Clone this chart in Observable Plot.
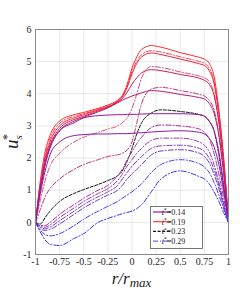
<!DOCTYPE html>
<html><head><meta charset="utf-8">
<script src="https://cdn.jsdelivr.net/npm/d3@7"></script>
<script src="https://cdn.jsdelivr.net/npm/@observablehq/plot@0.6"></script>
<style>body{margin:0;background:#fff;} #chart{width:252px;height:294px;}</style>
</head><body><div id="chart"></div>
<script>
// radial positions r/r_max shared by all profiles
const r = [-1, -0.95, -0.9, -0.85, -0.75, -0.6, -0.5, -0.35, -0.25, -0.15, -0.1, -0.05, 0, 0.05, 0.1, 0.2, 0.3, 0.5, 0.7, 0.75, 0.8, 0.85, 0.9, 0.95, 1];
// profiles u_s^*
const u1  = [0,1.3,2.2,2.7,3.15,3.35,3.42,3.55,3.65,3.8,3.95,4.3,4.8,5.15,5.38,5.5,5.45,5.28,5.13,5.08,4.95,4.55,3.5,2.0,0];
const u2  = [0,1.2,2.1,2.6,3.08,3.3,3.38,3.52,3.62,3.78,3.92,4.25,4.7,5.02,5.22,5.34,5.3,5.15,5.0,4.95,4.8,4.4,3.4,1.95,0];
const u3  = [0,1.15,2.0,2.5,3.0,3.25,3.35,3.5,3.6,3.76,3.9,4.2,4.62,4.95,5.15,5.27,5.22,5.08,4.93,4.88,4.72,4.32,3.35,1.9,0];
const u4  = [0,0.7,1.3,1.75,2.15,2.5,2.65,2.8,2.9,3.0,3.1,3.25,3.55,4.0,4.5,4.85,4.82,4.68,4.55,4.5,4.38,4.02,3.15,1.8,0];
const u5  = [0,1.1,1.9,2.4,2.92,3.2,3.3,3.47,3.58,3.74,3.85,4.05,4.3,4.5,4.65,4.75,4.72,4.6,4.48,4.42,4.3,3.95,3.1,1.75,0];
const u6  = [0,0.4,0.8,1.05,1.35,1.65,1.8,1.95,2.05,2.1,2.15,2.25,2.5,3.1,3.7,4.15,4.2,4.1,3.98,3.93,3.8,3.5,2.75,1.55,0];
const u7  = [0,1.0,1.8,2.3,2.85,3.15,3.27,3.44,3.56,3.72,3.8,3.87,3.93,3.98,4.03,4.1,4.08,3.98,3.88,3.84,3.7,3.4,2.7,1.5,0];
const u8  = [0,-0.05,0.15,0.35,0.65,0.9,1.02,1.18,1.3,1.45,1.6,1.9,2.3,2.75,3.1,3.4,3.5,3.45,3.35,3.3,3.15,2.85,2.1,1.1,0];
const u9  = [0,1.0,1.8,2.35,2.85,3.1,3.25,3.32,3.34,3.35,3.35,3.36,3.36,3.36,3.37,3.38,3.38,3.38,3.35,3.3,3.15,2.85,2.2,1.15,0];
const u10 = [0,-0.1,-0.1,0.0,0.25,0.55,0.75,1.0,1.15,1.45,1.65,1.95,2.2,2.45,2.65,2.95,3.03,3.0,2.9,2.8,2.6,2.15,1.5,0.75,0];
const u11 = [0,0.9,1.6,2.1,2.5,2.7,2.73,2.75,2.75,2.76,2.76,2.76,2.77,2.78,2.79,2.81,2.83,2.85,2.8,2.75,2.62,2.35,1.8,0.95,0];
const u12 = [0,-0.12,-0.15,-0.08,0.15,0.45,0.65,0.9,1.05,1.3,1.5,1.75,1.95,2.15,2.3,2.55,2.62,2.62,2.5,2.4,2.2,1.8,1.25,0.6,0];
const u13 = [0,-0.15,-0.2,-0.15,0.05,0.35,0.55,0.8,0.95,1.15,1.35,1.55,1.75,1.9,2.05,2.3,2.38,2.4,2.3,2.2,2.0,1.65,1.15,0.55,0];
const u14 = [0,-0.2,-0.25,-0.22,-0.05,0.25,0.45,0.7,0.85,1.0,1.15,1.35,1.5,1.65,1.8,2.1,2.22,2.26,2.15,2.05,1.85,1.5,1.05,0.5,0];
const u15 = [0,-0.25,-0.38,-0.42,-0.35,-0.1,0.1,0.35,0.5,0.65,0.75,0.85,0.95,1.07,1.2,1.55,1.8,1.95,1.82,1.72,1.55,1.25,0.85,0.42,0];
const u16 = [0,-0.3,-0.55,-0.68,-0.72,-0.5,-0.35,0.0,0.12,0.22,0.27,0.31,0.35,0.43,0.55,0.95,1.35,1.6,1.42,1.35,1.2,0.95,0.65,0.3,0];
const legendTimes = ["0.14", "0.19", "0.23", "0.29"];
const xTicks = [-1, -0.75, -0.5, -0.25, 0, 0.25, 0.5, 0.75, 1];
const yTicks = [-1, 0, 1, 2, 3, 4, 5, 6];

// styles (kept apart from values)
const profiles = [u1,u2,u3,u4,u5,u6,u7,u8,u9,u10,u11,u12,u13,u14,u15,u16];
const colors = ["#ff2a2a","#ff3a5a","#f0203a","#e0457e","#d21f50","#c2307a","#b41d72","#111111","#961aa0","#a32e9e","#8a1aa8","#9038b2","#7a38c4","#6636d4","#4c3ae6","#3434ff"];
const DD = "5,2,1.2,2", SOLID = null, DASH = "3,1.6";
const dashes = [SOLID,DD,SOLID,DD,SOLID,DD,SOLID,DASH,SOLID,DD,SOLID,DD,DD,DD,DD,DD];
const legendColors = ["#8c1a9c","#ff3a3a","#111111","#6a6aff"];
const legendDashes = [SOLID, SOLID, DASH, DD];

const lineMarks = profiles.map((u, i) => Plot.line(r.map((rv, j) => ({r: rv, u: u[j]})), {
  x: "r", y: "u", stroke: colors[i], strokeWidth: 1, strokeDasharray: dashes[i], curve: "monotone-x"
}));

const plot = Plot.plot({
  width: 252, height: 294,
  marginLeft: 35, marginRight: 24, marginTop: 29, marginBottom: 40,
  x: {domain: [-1, 1], label: null},
  y: {domain: [-1, 6], label: null},
  style: {fontFamily: "'Liberation Serif', 'DejaVu Serif', serif", fontSize: "10px", background: "#fff", color: "#222"},
  marks: [
    Plot.gridX(xTicks, {stroke: "#000", strokeOpacity: 0.09}),
    Plot.gridY(yTicks, {stroke: "#000", strokeOpacity: 0.09}),
    ...lineMarks,
    Plot.frame({stroke: "#8a8a8a"}),
    Plot.axisX(xTicks, {tickSize: 0, tickPadding: 3, tickFormat: d => String(d), fill: "#262626"}),
    Plot.axisY(yTicks, {tickSize: 0, tickPadding: 4, tickFormat: d => String(d), fill: "#262626"})
  ]
});
document.getElementById("chart").appendChild(plot);

const svg = d3.select(plot);
const sx = plot.scale("x"), sy = plot.scale("y");
const serif = "'Liberation Serif', 'DejaVu Serif', serif";

// y label u_s^*
const ylab = svg.append("text")
  .attr("transform", `translate(18,${(sy.apply(2.5)).toFixed(1)}) rotate(-90)`)
  .attr("text-anchor", "middle").attr("font-family", serif).attr("fill", "#222");
ylab.append("tspan").attr("font-size", 19).attr("font-style", "italic").text("u");
ylab.append("tspan").attr("font-size", 11).attr("font-style", "italic").attr("dy", 4).text("s");
ylab.append("tspan").attr("font-size", 12).attr("dx", -5).attr("dy", -11).text("*");

// x label r/r_max
const xlab = svg.append("text")
  .attr("x", sx.apply(0)).attr("y", 284)
  .attr("text-anchor", "middle").attr("font-family", serif).attr("fill", "#222");
xlab.append("tspan").attr("font-size", 17).attr("font-style", "italic").text("r/r");
xlab.append("tspan").attr("font-size", 13).attr("font-style", "italic").attr("dy", 3).text("max");

// legend
const lg = svg.append("g");
lg.append("rect").attr("x", 150.5).attr("y", 206.5).attr("width", 52).attr("height", 42)
  .attr("fill", "#fff").attr("stroke", "#555").attr("stroke-width", 0.8);
legendTimes.forEach((t, i) => {
  const yy = 212 + i * 9.7;
  lg.append("line").attr("x1", 153).attr("x2", 171).attr("y1", yy).attr("y2", yy)
    .attr("stroke", legendColors[i]).attr("stroke-width", 1.2)
    .attr("stroke-dasharray", legendDashes[i]);
  const tx = lg.append("text").attr("x", 173.5).attr("y", yy + 2.8)
    .attr("font-family", serif).attr("font-size", 8).attr("fill", "#222");
  tx.append("tspan").attr("font-style", "italic").text("t");
  tx.append("tspan").attr("font-size", 6).attr("dy", -2.5).text("*");
  tx.append("tspan").attr("dy", 2.5).text("=" + t);
});
</script>
</body></html>
